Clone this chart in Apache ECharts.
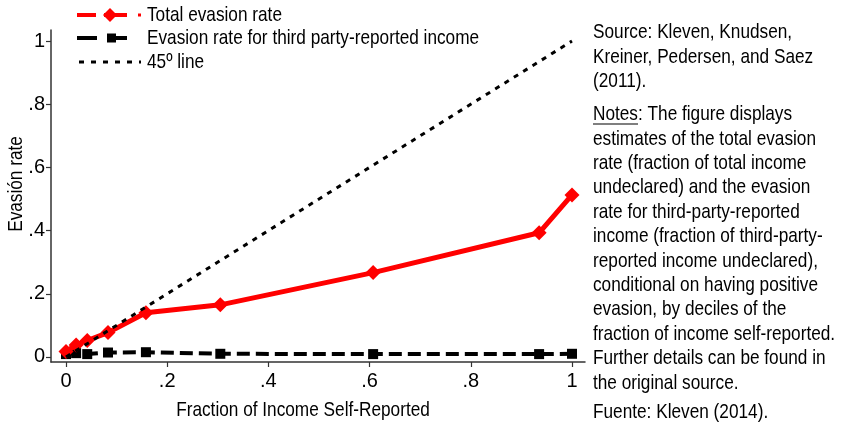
<!DOCTYPE html>
<html>
<head>
<meta charset="utf-8">
<script src="https://cdn.jsdelivr.net/npm/echarts@6/dist/echarts.min.js"></script>
<style>
html,body{margin:0;padding:0;background:#fff;}
#chart{width:846px;height:425px;}
</style>
</head>
<body>
<div id="chart"></div>
<script>
// ---- data ----
const selfReported = [0.0, 0.02, 0.042, 0.083, 0.158, 0.305, 0.607, 0.935, 1.0];
const totalEvasion = [0.017, 0.038, 0.052, 0.077, 0.14, 0.165, 0.267, 0.393, 0.513];
const thirdPartyEvasion = [0.009, 0.012, 0.009, 0.014, 0.015, 0.01, 0.009, 0.009, 0.01];
const line45x = [0, 1];
const line45y = [0, 1];
const xTicks = [0, 0.2, 0.4, 0.6, 0.8, 1];
const yTicks = [0, 0.2, 0.4, 0.6, 0.8, 1];
const seriesNames = ['Total evasion rate', 'Evasion rate for third party-reported income', '45º line'];
const xTitle = 'Fraction of Income Self-Reported';
const yTitle = 'Evasión rate';
const sourceLines = ['Source: Kleven, Knudsen,', 'Kreiner, Pedersen, and Saez', '(2011).'];
const notesLines = ['Notes: The figure displays', 'estimates of the total evasion', 'rate (fraction of total income',
  'undeclared) and the evasion', 'rate for third-party-reported', 'income (fraction of third-party-',
  'reported income undeclared),', 'conditional on having positive', 'evasion, by deciles of the',
  'fraction of income self-reported.', 'Further details can be found in', 'the original source.'];
const fuenteLine = 'Fuente: Kleven (2014).';

const FONT = '"Liberation Sans", Arial, sans-serif';
const FS = 21;
const SX = 0.82; // narrow look

function pairs(xs, ys){ return xs.map((x,i)=>[x, ys[i]]); }
function fmt(v){ if (Math.abs(v) < 1e-9) return '0'; if (Math.abs(v-1) < 1e-9) return '1'; return String(+v.toFixed(1)).replace('0.', '.'); }
function txt(t, x, y, opts){
  return Object.assign({type:'text', x:x, y:y, scaleX:SX, z:10,
    style:{text:t, font:`${FS}px ${FONT}`, fill:'#000', align:'left', verticalAlign:'middle'}}, opts||{});
}

const graphics = [];
// right side text
sourceLines.forEach((t,i)=>graphics.push(txt(t, 593, 32.5 + i*24.4)));
notesLines.forEach((t,i)=>graphics.push(txt(t, 593, 114.5 + i*24.4)));
graphics.push({type:'line', shape:{x1:593, y1:124, x2:638, y2:124}, style:{stroke:'#000', lineWidth:1.2}});
graphics.push(txt(fuenteLine, 593, 412.5));
// axis titles
graphics.push({type:'text', x:303, y:410, scaleX:SX, style:{text:xTitle, font:`${FS}px ${FONT}`, fill:'#000', align:'center', verticalAlign:'middle'}});
graphics.push({type:'text', x:16, y:184, rotation:Math.PI/2, scaleX:SX, style:{text:yTitle, font:`${FS}px ${FONT}`, fill:'#000', align:'center', verticalAlign:'middle'}});
// legend keys (Stata-style)
const legY = [15, 38, 62];
graphics.push({type:'line', shape:{x1:77, y1:legY[0], x2:96, y2:legY[0]}, style:{stroke:'#ff0000', lineWidth:4}});
graphics.push({type:'line', shape:{x1:104, y1:legY[0], x2:127, y2:legY[0]}, style:{stroke:'#ff0000', lineWidth:4}});
graphics.push({type:'polygon', shape:{points:[[110,legY[0]-7],[117,legY[0]],[110,legY[0]+7],[103,legY[0]]]}, style:{fill:'#ff0000'}});
graphics.push({type:'rect', shape:{x:138, y:legY[0]-1.5, width:3, height:3}, style:{fill:'#ff0000'}});
graphics.push({type:'line', shape:{x1:77, y1:legY[1], x2:97, y2:legY[1]}, style:{stroke:'#000', lineWidth:4}});
graphics.push({type:'line', shape:{x1:108, y1:legY[1], x2:127, y2:legY[1]}, style:{stroke:'#000', lineWidth:4}});
graphics.push({type:'rect', shape:{x:107, y:legY[1]-4.5, width:9, height:9}, style:{fill:'#000'}});
graphics.push({type:'line', shape:{x1:79, y1:legY[2], x2:141, y2:legY[2]}, style:{stroke:'#000', lineWidth:3, lineDash:[5,7]}});
seriesNames.forEach((n,i)=>graphics.push(txt(n, 147, legY[i])));

const chart = echarts.init(document.getElementById('chart'));
chart.setOption({
  animation:false,
  backgroundColor:'#fff',
  textStyle:{fontFamily:FONT},
  legend:{show:false, data:seriesNames},
  grid:{left:51, right:261, top:30, bottom:63, containLabel:false},
  xAxis:{
    type:'value', min:-0.0296, max:1.0257,
    axisLine:{show:true, onZero:false, lineStyle:{color:'#333', width:1.5}},
    axisTick:{show:true, length:5, customValues:xTicks, lineStyle:{color:'#333', width:1.2}},
    axisLabel:{customValues:xTicks, formatter:fmt, fontSize:20, color:'#000', margin:9, fontFamily:FONT},
    splitLine:{show:false}
  },
  yAxis:{
    type:'value', min:-0.016, max:1.035,
    axisLine:{show:true, onZero:false, lineStyle:{color:'#333', width:1.5}},
    axisTick:{show:true, length:5, customValues:yTicks, lineStyle:{color:'#333', width:1.2}},
    axisLabel:{customValues:yTicks, formatter:fmt, fontSize:20, color:'#000', margin:6, fontFamily:FONT},
    splitLine:{show:false}
  },
  series:[
    {name:seriesNames[0], type:'line', data:pairs(selfReported, totalEvasion), z:3,
     symbol:'diamond', symbolSize:15, showSymbol:true,
     itemStyle:{color:'#ff0000'}, lineStyle:{color:'#ff0000', width:5}},
    {name:seriesNames[1], type:'line', data:pairs(selfReported, thirdPartyEvasion), z:2,
     symbol:'rect', symbolSize:10,
     itemStyle:{color:'#000'}, lineStyle:{color:'#000', width:4, type:[13,6]}},
    {name:seriesNames[2], type:'line', data:pairs(line45x, line45y), z:4,
     symbol:'none',
     itemStyle:{color:'#000'}, lineStyle:{color:'#000', width:3, type:[5,6]}}
  ],
  graphic:graphics
});
</script>
</body>
</html>
